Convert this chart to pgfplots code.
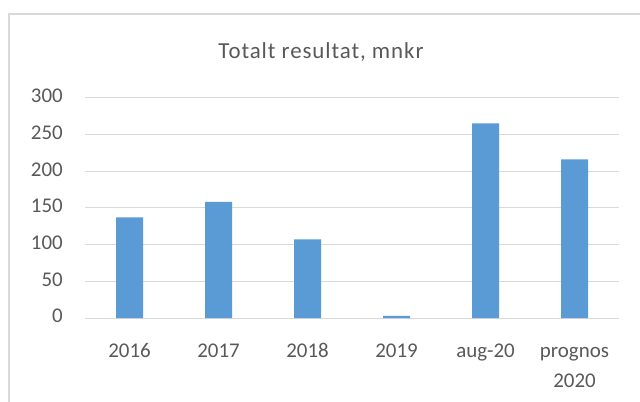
\documentclass[border=0pt]{standalone}
\usepackage{fontspec}
\setmainfont{Carlito}
\usepackage{pgfplots}
\pgfplotsset{compat=1.18}
\definecolor{barblue}{HTML}{5B9BD5}
\definecolor{gridgray}{HTML}{D9D9D9}
\definecolor{txt}{HTML}{595959}
\begin{document}
\begin{tikzpicture}[x=1bp,y=1bp]
\useasboundingbox (0,0) rectangle (640,401);
\fill[white] (0,0) rectangle (640,401);
\draw[gridgray, line width=1.3bp] (9,-1) -- (9,387) -- (641,387);
\node[anchor=base, font=\fontsize{23}{27}\selectfont\addfontfeatures{LetterSpace=4}, text=txt, inner sep=0pt] at (321,343) {Totalt resultat, mnkr};
\begin{axis}[
  at={(85bp,83bp)}, anchor=south west, scale only axis,
  width=534bp, height=220.3bp,
  xmin=-0.5, xmax=5.5, ymin=0, ymax=300,
  ytick={0,50,...,300},
  xtick=data,
  xticklabels={2016,2017,2018,2019,aug-20,{prognos\\2020}},
  axis line style={draw=none},
  ymajorgrids, grid style={gridgray, line width=1bp},
  major tick length=0pt,
  /pgf/number format/assume math mode=true,
  typeset ticklabels with strut,
  yticklabel style={font=\fontsize{21}{25}\selectfont, text=txt, inner sep=0pt, xshift=-22bp},
  xticklabel style={font=\fontsize{21}{30}\selectfont, text=txt, inner sep=0pt, align=center, anchor=north, yshift=-18bp},
]
\addplot[ybar, bar width=27bp, fill=barblue, draw=none]
  coordinates {(0,137) (1,158) (2,107) (3,3) (4,265) (5,216)};
\end{axis}
\end{tikzpicture}
\end{document}
